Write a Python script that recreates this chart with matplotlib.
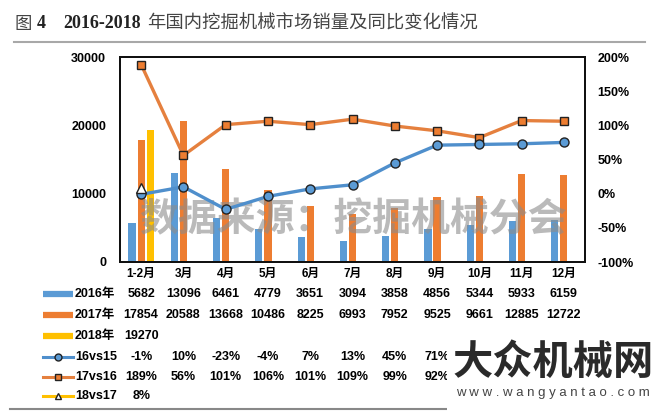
import numpy as np
import matplotlib.pyplot as plt
from matplotlib.lines import Line2D
from matplotlib.patches import Rectangle
import matplotlib.transforms as mtransforms

plt.rcParams['font.family'] = ['Liberation Sans', 'Noto Sans CJK SC', 'DejaVu Sans']
CJK = ['Noto Sans CJK SC', 'DejaVu Sans']

months = ['1-2月', '3月', '4月', '5月', '6月', '7月', '8月', '9月', '10月', '11月', '12月']
sales_2016 = [5682, 13096, 6461, 4779, 3651, 3094, 3858, 4856, 5344, 5933, 6159]
sales_2017 = [17854, 20588, 13668, 10486, 8225, 6993, 7952, 9525, 9661, 12885, 12722]
sales_2018 = [19270]
yoy_16vs15 = [-1, 10, -23, -4, 7, 13, 45, 71, 72, 73, 75]
yoy_17vs16 = [189, 56, 101, 106, 101, 109, 99, 92, 82, 107, 106]
yoy_18vs17 = [8]

c_blue = '#5B9BD5'
c_orange = '#ED7D31'
c_yellow = '#FFC000'
c_bline = '#4F8FCC'
c_oline = '#E5803E'

W, H = 660, 412
fig = plt.figure(figsize=(6.6, 4.12), dpi=100)

def fx(px):
    return px / W

def fy(py):
    return 1 - py / H

# title
fig.text(fx(15), fy(24), '图', fontsize=12.5, color='#444444', va='center', ha='left', family=CJK)
fig.text(fx(37), fy(24), '4', fontsize=13, fontweight='bold', color='#222222', va='center',
         ha='left', family=['Liberation Serif'])
fig.text(fx(63), fy(24), '2016-2018', fontsize=13, fontweight='bold', color='#222222',
         va='center', ha='left', family=['Liberation Serif'])
fig.text(fx(147), fy(24), '年国内挖掘机械市场销量及同比变化情况', fontsize=13.2,
         color='#444444', va='center', ha='left', family=CJK)
fig.add_artist(Line2D([fx(14), fx(645)], [fy(42), fy(42)], color='#a8a8a8', lw=1.5))

ax = fig.add_axes([fx(120), fy(262), fx(585 - 120), (262 - 57) / H])
ax2 = ax.twinx()

x = np.arange(len(months))
bw = 0.17
off = 0.215
ax.bar(x - off, sales_2016, bw, color=c_blue, zorder=2)
ax.bar(x, sales_2017, bw, color=c_orange, zorder=2)
ax.bar(x[:len(sales_2018)] + off, sales_2018, bw, color=c_yellow, zorder=2)

ax.set_xlim(-0.5, len(months) - 0.5)
ax.set_ylim(0, 30000)
ax.set_yticks([0, 10000, 20000, 30000])
ax.set_yticklabels(['0', '10000', '20000', '30000'], fontsize=9, fontweight='bold')
ax.set_xticks(x)
ax.set_xticklabels(months, fontsize=8.5, fontweight='bold')
ax.tick_params(length=0, pad=4)
ax.tick_params(axis='y', pad=10)

ax2.plot(x, yoy_17vs16, color=c_oline, lw=2.4, marker='s', ms=6,
         mfc=c_orange, mec='#222222', mew=1, zorder=3)
ax2.plot(x, yoy_16vs15, color=c_bline, lw=2.4, marker='o', ms=6.5,
         mfc=c_blue, mec='#222222', mew=1, zorder=3)
ax2.plot(x[:len(yoy_18vs17)], yoy_18vs17, color=c_yellow, lw=2.4, marker='^', ms=6.5,
         mfc='white', mec='#222222', mew=1, zorder=4)
ax2.set_ylim(-100, 200)
ax2.set_yticks(np.arange(-100, 201, 50))
ax2.set_yticklabels([f'{v}%' for v in range(-100, 201, 50)], fontsize=9, fontweight='bold')
ax2.tick_params(length=0, pad=9)

for a in (ax, ax2):
    for s in a.spines.values():
        s.set_linewidth(1.4)
        s.set_color('#111111')

# watermark in plot
ax.text(0.5, 0.205, '数据来源：挖掘机械分会', transform=ax.transAxes, ha='center', va='center',
        fontsize=28, fontweight='bold', color='#8c8c8c', alpha=0.6, zorder=10, family=CJK)

# data table
tr = mtransforms.blended_transform_factory(ax.transData, fig.transFigure)
rows = [
    ('2016年', [str(v) for v in sales_2016], 'bar', c_blue, None, None),
    ('2017年', [str(v) for v in sales_2017], 'bar', c_orange, None, None),
    ('2018年', [str(v) for v in sales_2018], 'bar', c_yellow, None, None),
    ('16vs15', [f'{v}%' for v in yoy_16vs15], 'line', c_bline, 'o', c_blue),
    ('17vs16', [f'{v}%' for v in yoy_17vs16], 'line', c_oline, 's', c_orange),
    ('18vs17', [f'{v}%' for v in yoy_18vs17], 'line', c_yellow, '^', 'white'),
]
row_y = [294, 315, 336, 357, 377, 396]
for (label, vals, kind, col, mk, mfc), py in zip(rows, row_y):
    yy = fy(py)
    if kind == 'bar':
        fig.add_artist(Line2D([fx(43), fx(73)], [yy, yy], color=col, lw=4.5, solid_capstyle='butt'))
    else:
        fig.add_artist(Line2D([fx(43), fx(73)], [yy, yy], color=col, lw=2.2))
        fig.add_artist(Line2D([fx(58)], [yy], marker=mk, ms=5, mfc=mfc, mec='#222222', mew=1))
    fig.text(fx(75), yy, label, fontsize=9, fontweight='bold', va='center', ha='left')
    # the site logo covers the right part of the two lower rows
    shown = vals if py < 340 else vals[:8]
    for i, v in enumerate(shown):
        fig.text(x[i], yy, v, transform=tr, fontsize=9, fontweight='bold',
                 va='center', ha='center')

fig.add_artist(Line2D([fx(10), fx(446)], [fy(409), fy(409)], color='#888888', lw=1.5))

# site logo bottom right
fig.add_artist(Rectangle((fx(447), 0), fx(213), fy(340), transform=fig.transFigure,
                         facecolor='white', edgecolor='none', zorder=5))
fig.text(fx(553), fy(362), '大众机械网', fontsize=29, fontweight='bold', color='#2a2a2a',
         ha='center', va='center', zorder=6, family=CJK)
fig.text(fx(553), fy(393), 'w w w . w a n g y a n t a o . c o m', fontsize=9.5,
         color='#444444', ha='center', va='center', zorder=6)

plt.savefig('out.png', dpi=100)
plt.close()
